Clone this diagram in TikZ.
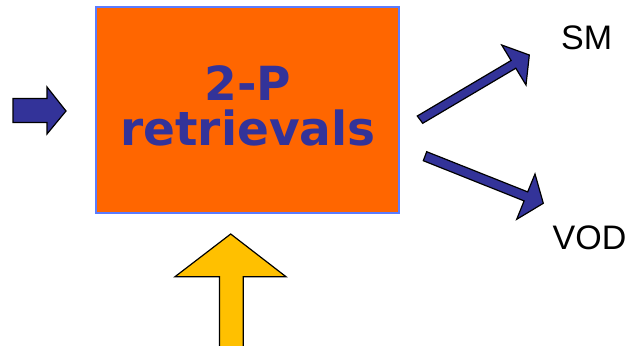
\documentclass[tikz,border=0pt]{standalone}
\usepackage{fontspec}
\setmainfont{Liberation Sans}
\newfontfamily\boxfont{DejaVu Sans}
\definecolor{boxorange}{HTML}{FF6600}
\definecolor{boxedge}{HTML}{5B7CFF}
\definecolor{navy}{HTML}{333399}
\definecolor{gold}{HTML}{FFC000}
\begin{document}
\begin{tikzpicture}[x=1pt,y=-1pt,
  arrowshape/.style={draw=black,line width=1.2pt,line join=miter},
  boxtext/.style={font=\boxfont\bfseries\fontsize{47}{47}\selectfont,text=navy,anchor=base,inner sep=0pt},
  lbl/.style={font=\fontsize{34}{34}\selectfont,anchor=base west,inner sep=0pt}]
\useasboundingbox (0,0) rectangle (631,345);
% main box
\node[draw=boxedge,line width=1.6pt,fill=boxorange,minimum width=303pt,minimum height=206pt,inner sep=0pt] (box) at (247.5,110) {};
\node[boxtext] (t1) at (248,100) {2-P};
\node[boxtext] (t2) at (248,145.5) {retrievals};
% left input arrow
\filldraw[arrowshape,fill=navy] (13,98.5) -- (47,98.5) -- (47,87) -- (66,111) -- (47,134) -- (47,122.5) -- (13,122.5) -- cycle;
% bottom yellow arrow
\filldraw[arrowshape,fill=gold] (219.5,350) -- (219.5,276.7) -- (175,276.7) -- (230.7,234) -- (286,276.7) -- (243.3,276.7) -- (243.3,350) -- cycle;
% SM arrow
\filldraw[arrowshape,fill=navy] (417.3,116) -- (511.1,60.5) -- (501.7,45) -- (529.3,55) -- (526,85) -- (515.8,68.2) -- (422.7,123.3) -- cycle;
% VOD arrow
\filldraw[arrowshape,fill=navy] (426.7,151.7) -- (527.7,191.9) -- (535,174) -- (543.3,203.3) -- (516.7,219.3) -- (524.1,200.9) -- (423.3,160.7) -- cycle;
% labels
\node[lbl] (sm) at (561,49) {SM};
\node[lbl] (vod) at (552.5,249.3) {VOD};
\end{tikzpicture}
\end{document}
